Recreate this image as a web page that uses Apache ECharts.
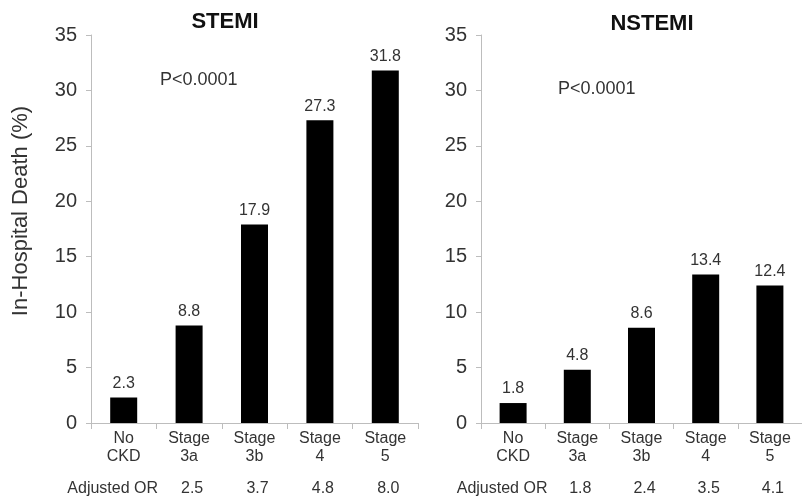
<!DOCTYPE html>
<html>
<head>
<meta charset="utf-8">
<script src="https://cdn.jsdelivr.net/npm/echarts@6/dist/echarts.min.js"></script>
<style>
html,body{margin:0;padding:0;background:#fff;}
#chart{width:802px;height:498px;}
</style>
</head>
<body>
<div id="chart"></div>
<script>
var categories = ['No\nCKD', 'Stage\n3a', 'Stage\n3b', 'Stage\n4', 'Stage\n5'];
var stemiValues = [2.3, 8.8, 17.9, 27.3, 31.8];
var nstemiValues = [1.8, 4.8, 8.6, 13.4, 12.4];
var orLabel = 'Adjusted OR';
var stemiOR = ['2.5', '3.7', '4.8', '8.0'];
var nstemiOR = ['1.8', '2.4', '3.5', '4.1'];
var yTicks = {min: 0, max: 35, interval: 5};
var panelTitles = ['STEMI', 'NSTEMI'];
var pText = 'P<0.0001';
var yName = 'In-Hospital Death (%)';

var FONT = '"Liberation Sans", Arial, sans-serif';
var axisGray = '#bdbdbd';
var textCol = '#333';

function catAxis(grid) {
  return {
    type: 'category', gridIndex: grid, data: categories,
    axisLine: {show: true, lineStyle: {color: axisGray, width: 1}},
    axisTick: {show: true, length: 6, lineStyle: {color: axisGray}},
    axisLabel: {interval: 0, fontSize: 16, color: textCol, fontFamily: FONT, lineHeight: 18, margin: 7}
  };
}
function orAxis(grid, vals) {
  return {
    type: 'category', gridIndex: grid, position: 'bottom', offset: 50,
    data: [orLabel].concat(vals),
    axisLine: {show: false}, axisTick: {show: false},
    axisLabel: {
      interval: 0, fontSize: 16, color: textCol, fontFamily: FONT, margin: 8,
      formatter: function (v, i) { return i === 0 ? '{a|' + v + '}' : '{v|' + v + '}'; },
      rich: {
        a: {fontSize: 16, color: textCol, fontFamily: FONT, padding: [0, 22, 0, 0]},
        v: {fontSize: 16, color: textCol, fontFamily: FONT, padding: [0, 0, 0, 6]}
      }
    }
  };
}
function valAxis(grid) {
  return {
    type: 'value', gridIndex: grid, min: yTicks.min, max: yTicks.max, interval: yTicks.interval,
    axisLine: {show: true, lineStyle: {color: axisGray, width: 1}},
    axisTick: {show: true, length: 5, lineStyle: {color: axisGray}},
    splitLine: {show: false},
    axisLabel: {fontSize: 20, color: textCol, fontFamily: FONT, margin: 14}
  };
}
function barSeries(idx, data) {
  return {
    type: 'bar', xAxisIndex: idx * 2, yAxisIndex: idx, data: data, barWidth: 27,
    itemStyle: {color: '#000'},
    label: {show: true, position: 'top', distance: 6, fontSize: 16, color: textCol, fontFamily: FONT,
      formatter: function (p) { return p.value.toFixed(1); }}
  };
}

var chart = echarts.init(document.getElementById('chart'), null, {renderer: 'canvas'});
chart.setOption({
  animation: false,
  backgroundColor: '#fff',
  grid: [
    {left: 91, top: 35, width: 327, height: 388},
    {left: 481, top: 35, width: 329, height: 388}
  ],
  xAxis: [catAxis(0), orAxis(0, stemiOR), catAxis(1), orAxis(1, nstemiOR)],
  yAxis: [valAxis(0), valAxis(1)],
  series: [barSeries(0, stemiValues), barSeries(1, nstemiValues)],
  graphic: [
    {type: 'text', x: 21, y: 211, rotation: Math.PI / 2, style: {text: yName, fontSize: 22, fill: textCol, fontFamily: FONT, align: 'center', verticalAlign: 'middle'}},
    {type: 'text', x: 225, y: 22, style: {text: panelTitles[0], fontSize: 22, fontWeight: 'bold', fill: '#111', fontFamily: FONT, align: 'center', verticalAlign: 'middle'}},
    {type: 'text', x: 652, y: 24, style: {text: panelTitles[1], fontSize: 22, fontWeight: 'bold', fill: '#111', fontFamily: FONT, align: 'center', verticalAlign: 'middle'}},
    {type: 'text', x: 160, y: 80, style: {text: pText, fontSize: 18, fill: textCol, fontFamily: FONT, align: 'left', verticalAlign: 'middle'}},
    {type: 'text', x: 558, y: 89, style: {text: pText, fontSize: 18, fill: textCol, fontFamily: FONT, align: 'left', verticalAlign: 'middle'}}
  ]
});
</script>
</body>
</html>
